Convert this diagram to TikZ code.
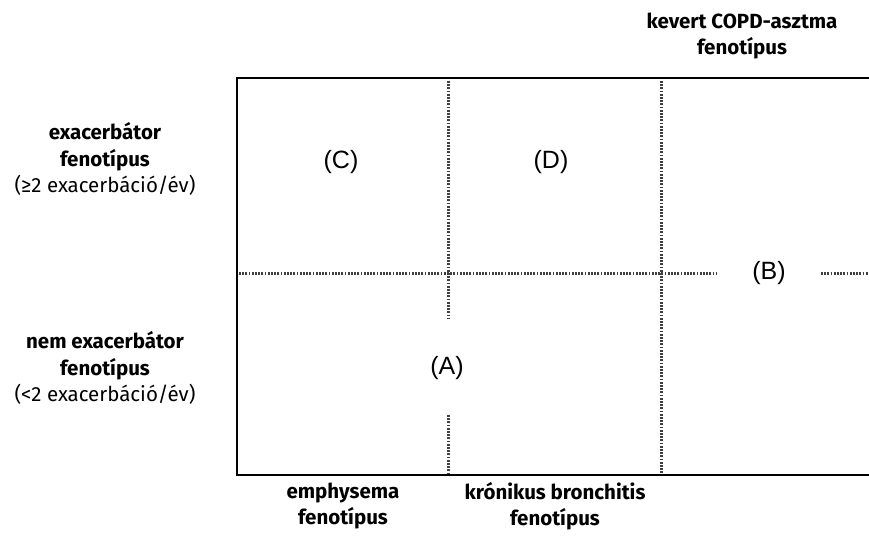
\documentclass[tikz,border=0pt]{standalone}
\usepackage{fontspec}
\setmainfont{Fira Sans}
\newfontfamily\labelfont{Liberation Sans}
\usetikzlibrary{positioning}

\tikzset{
  frame/.style={line width=2.6pt,line cap=rect},
  sep/.style={draw=black!75,line width=3pt,dash pattern=on 1.8pt off 1.4pt},
  field/.style={font=\labelfont\fontsize{25}{25}\selectfont},
  phen/.style={align=center,font=\fontsize{20.5}{26.5}\selectfont}
}

\begin{document}
\begin{tikzpicture}[x=1pt,y=-1pt]
\useasboundingbox (0,0) rectangle (869,540);
% frame
\coordinate (tl) at (237,78);
\coordinate (bl) at (237,475);
\coordinate (tr) at (875,78);
\coordinate (br) at (875,475);
\draw[frame] (tr) -- (tl) -- (bl) -- (br);

% fields
\node[field] (C) at (341,162) {(C)};
\node[field] (D) at (551,162) {(D)};
\node[field] (A) at (447,368) {(A)};
\node[field] (B) at (769,273) {(B)};

% separators
\coordinate (v1t) at (448,81);
\coordinate (v1m) at (448,318);
\coordinate (v1n) at (448,415);
\coordinate (v1b) at (448,473);
\coordinate (v2t) at (661,81);
\coordinate (v2b) at (661,473);
\coordinate (hl) at (239,273);
\coordinate (hm) at (716,273);
\coordinate (hn) at (821,273);
\coordinate (hr) at (869,273);
\draw[sep] (v1t) -- (v1m);
\draw[sep] (v1n) -- (v1b);
\draw[sep] (v2t) -- (v2b);
\draw[sep] (hl) -- (hm);
\draw[sep] (hn) -- (hr);

% phenotypes
\node[phen] (exa) at (105,159) {\textbf{exacerbátor}\\\textbf{fenotípus}\\(≥2 exacerbáció/év)};
\node[phen] (nexa) at (105,368) {\textbf{nem exacerbátor}\\\textbf{fenotípus}\\(<2 exacerbáció/év)};
\node[phen] (emph) at (343,506) {\textbf{emphysema}\\\textbf{fenotípus}};
\node[phen] (bron) at (555,506) {\textbf{krónikus bronchitis}\\\textbf{fenotípus}};
\node[phen] (mix) at (742,36) {\textbf{kevert COPD-asztma}\\\textbf{fenotípus}};
\end{tikzpicture}
\end{document}
